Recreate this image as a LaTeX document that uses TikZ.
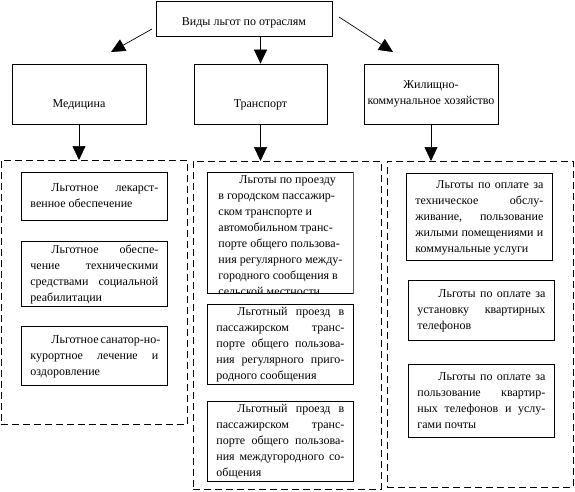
\documentclass[tikz,border=0pt]{standalone}
\usepackage{fontspec}
\setmainfont{Liberation Serif}
\usetikzlibrary{arrows.meta}

\newcommand{\firstind}{\hspace*{21pt}}
\newcommand{\jline}[1]{\hbox to 128pt{\strut#1}}
\newcommand{\lline}[1]{\hbox{\strut#1}}

\begin{document}
\begin{tikzpicture}[x=1pt, y=-1pt,
    head/.style={draw, line width=0.8pt, align=center, font=\fontsize{12}{16}\selectfont},
    inbox/.style={draw, line width=0.8pt, anchor=north west, inner xsep=9pt, inner ysep=0pt,
      minimum width=146pt, font=\fontsize{12}{16}\selectfont},
    group/.style={draw, line width=0.9pt, dash pattern=on 7pt off 4pt, anchor=north west},
    link/.style={line width=0.7pt, -{Triangle[length=14pt,width=13pt]}}]

  \useasboundingbox (0,0) rectangle (575,491);

  % headers
  \node[head, minimum width=176pt, minimum height=35pt, text height=14pt, text depth=0pt] (kinds) at (244,18.5) {Виды льгот по отраслям};
  \node[head, minimum width=134pt, minimum height=60pt, text height=26pt, text depth=0pt] (med) at (79,94) {Медицина};
  \node[head, minimum width=133pt, minimum height=60pt, text height=26pt, text depth=0pt] (trans) at (260.5,94) {Транспорт};
  \node[head, minimum width=134pt, minimum height=60pt] (house) at (431,94) {Жилищно-\\коммунальное хозяйство};

  % dashed groups
  \node[group, minimum width=186.5pt, minimum height=264pt] (medgrp) at (0.5,160) {};
  \node[group, minimum width=188pt, minimum height=328pt] (transgrp) at (193,161) {};
  \node[group, minimum width=186pt, minimum height=326pt] (housegrp) at (387,161) {};

  % arrows
  \coordinate (lstart) at (152,29);
  \coordinate (ltip) at (111,52);
  \coordinate (rstart) at (339,17);
  \coordinate (rtip) at (393,52);
  \draw[link] (lstart) -- (ltip);
  \draw[link] (rstart) -- (rtip);
  \draw[link] (kinds.south -| trans.north) -- (trans.north);
  \draw[link] (med.south) -- (med.south |- medgrp.north);
  \draw[link] (trans.south) -- (trans.south |- transgrp.north);
  \draw[link] (house.south) -- (house.south |- housegrp.north);

  % medicine
  \node[inbox, minimum height=48pt] (m1) at (21,172)
    {\vbox{\jline{\firstind Льготное лекарст-}\lline{венное обеспечение}}};
  \node[inbox, minimum height=65pt] (m2) at (21,241)
    {\vbox{\jline{\firstind Льготное обеспе-}\jline{чение техническими}\jline{средствами социальной}\lline{реабилитации}}};
  \node[inbox, minimum height=59pt] (m3) at (21,326)
    {\vbox{\jline{\firstind Льготное санатор-но-}\jline{курортное лечение и}\lline{оздоровление}}};

  % transport
  \begin{scope}
    \clip (206.5,171.5) rectangle (353.5,293.5);
    \node[inbox] (t1) at (207,172)
      {\vbox to 121pt{\lline{\firstind Льготы по проезду}\lline{в городском пассажир-}\lline{ском транспорте и}
        \lline{автомобильном транс-}\lline{порте общего пользова-}\lline{ния регулярного между-}
        \lline{городного сообщения в}\lline{сельской местности}\vss}};
  \end{scope}
  \node[inbox, minimum height=78pt] (t2) at (207,304)
    {\vbox{\jline{\firstind Льготный проезд в}\jline{пассажирском транс-}\jline{порте общего пользова-}\jline{ния регулярного приго-}\lline{родного сообщения}}};
  \node[inbox, minimum height=77pt] (t3) at (207,401)
    {\vbox{\jline{\firstind Льготный проезд в}\jline{пассажирском транс-}\jline{порте общего пользова-}\jline{ния междугородного со-}\lline{общения}}};

  % housing
  \node[inbox, minimum height=87pt] (z1) at (406,173)
    {\vbox{\jline{\firstind Льготы по оплате за}\jline{техническое обслу-}\jline{живание, пользование}\jline{жилыми помещениями и}\lline{коммунальные услуги}}};
  \node[inbox, minimum height=60pt] (z2) at (408,280)
    {\vbox{\jline{\firstind Льготы по оплате за}\jline{установку квартирных}\lline{телефонов}}};
  \node[inbox, minimum height=73pt] (z3) at (408,364)
    {\vbox{\jline{\firstind Льготы по оплате за}\jline{пользование квартир-}\jline{ных телефонов и услу-}\lline{гами почты}}};

\end{tikzpicture}
\end{document}
